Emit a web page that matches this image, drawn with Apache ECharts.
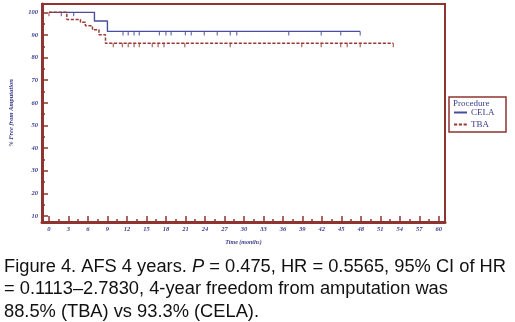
<!DOCTYPE html>
<html><head><meta charset="utf-8">
<script src="https://cdn.jsdelivr.net/npm/echarts@6/dist/echarts.min.js"></script>
<style>html,body{margin:0;padding:0;background:#fff}#c{width:515px;height:322px}</style>
</head><body><div id="c"></div>
<script>
// Kaplan-Meier steps (time in months, % free from amputation)
const celaTimes = [0, 7.0, 9.0, 47.9];
const celaValues = [100, 96.2, 91.6, 91.6];
const tbaTimes = [0, 2.75, 4.85, 5.6, 6.7, 7.7, 8.7, 53.0];
const tbaValues = [100, 96.9, 95.6, 94.1, 92.3, 90.1, 86.3, 86.3];
// censoring marks (months)
const celaCensor = [1.9, 3.8, 11.4, 12.2, 13.1, 13.9, 17.0, 18.0, 18.8, 21.0, 21.9, 23.9, 25.9, 27.9, 28.9, 36.9, 41.9, 44.9, 47.9];
const tbaCensor = [0, 9.9, 11.3, 12.2, 13.1, 13.9, 15.9, 16.8, 17.7, 20.9, 27.9, 38.9, 41.9, 44.9, 45.9, 47.9, 53.0];
// axis ticks
const xTickLabels = [0,3,6,9,12,15,18,21,24,27,30,33,36,39,42,45,48,51,54,57,60];
const xMinorTicks = [1.5,4.5,7.5,10.5,13.5,16.5,19.5,22.5,25.5,28.5,31.5,34.5,37.5,40.5,43.5,46.5,49.5,52.5,55.5,58.5];
const yTickLabels = [10,20,30,40,50,60,70,80,90,100];
const yMinorTicks = [15,25,35,45,55,65,75,85,95];

const RED = '#8e3431', BLUE = '#4a4c9e', TXT = '#3b3d8c', LINE_RED = '#9a3a35';
function stepData(t, v){ return t.map((x,i)=>[x, v[i]]); }
function levelAt(t, v, x){ let s = v[0]; for(let i=0;i<t.length;i++){ if(t[i] <= x) s = v[i]; } return s; }
const labFont = {fontFamily:'Liberation Serif', fontStyle:'italic', fontWeight:'bold', fontSize:6.5, color:TXT};

const chart = echarts.init(document.getElementById('c'), null, {renderer:'canvas'});
const X0 = -1.07, X1 = 60.95, Y0 = 7.35, Y1 = 103.7;
chart.setOption({
  animation:false,
  grid:{left:40, top:4, right:70, bottom:100, show:true, borderColor:RED, borderWidth:2, backgroundColor:'#fff'},
  xAxis:[
    {type:'value', min:X0, max:X1, splitLine:{show:false},
     axisLine:{show:true, onZero:false, lineStyle:{color:RED, width:3}},
     axisTick:{show:true, inside:true, length:6, customValues:xTickLabels, lineStyle:{color:RED, width:1.5}},
     axisLabel:Object.assign({show:true, margin:4, customValues:xTickLabels}, labFont),
     name:'Time (months)', nameLocation:'middle', nameGap:17,
     nameTextStyle:{fontFamily:'Liberation Serif', fontStyle:'italic', fontWeight:'bold', fontSize:6, color:TXT}},
    {type:'value', min:X0, max:X1, position:'bottom', splitLine:{show:false},
     axisLine:{show:false, onZero:false}, axisLabel:{show:false},
     axisTick:{show:true, inside:true, length:3, customValues:xMinorTicks, lineStyle:{color:RED, width:1.5}}}
  ],
  yAxis:[
    {type:'value', min:Y0, max:Y1, splitLine:{show:false},
     axisLine:{show:true, onZero:false, lineStyle:{color:RED, width:3}},
     axisTick:{show:true, inside:true, length:6, customValues:yTickLabels, lineStyle:{color:RED, width:1.5}},
     axisLabel:Object.assign({show:true, margin:4, customValues:yTickLabels}, labFont),
     name:'% Free from Amputation', nameLocation:'middle', nameGap:27, nameRotate:90,
     nameTextStyle:{fontFamily:'Liberation Serif', fontStyle:'italic', fontWeight:'bold', fontSize:6.5, color:TXT}},
    {type:'value', min:Y0, max:Y1, position:'left', offset:0, splitLine:{show:false},
     axisLine:{show:false, onZero:false}, axisLabel:{show:false},
     axisTick:{show:true, inside:true, length:3, customValues:yMinorTicks, lineStyle:{color:RED, width:1.5}}}
  ],
  legend:{orient:'vertical', left:453, top:108, padding:0, itemGap:3, itemWidth:13, itemHeight:6,
    itemStyle:{opacity:0},
    textStyle:{fontFamily:'Liberation Serif', fontSize:9, color:TXT, padding:[0,0,0,-1]},
    data:['CELA','TBA']},
  series:[
    {name:'CELA', type:'line', step:'end', symbol:'none', showSymbol:false, data:stepData(celaTimes, celaValues),
     lineStyle:{color:BLUE, width:1.4}, itemStyle:{color:BLUE}, z:3},
    {name:'TBA', type:'line', step:'end', symbol:'none', showSymbol:false, data:stepData(tbaTimes, tbaValues),
     lineStyle:{color:LINE_RED, width:1.5, type:[3.2,1.6]}, itemStyle:{color:LINE_RED}, z:4},
    {name:'CELA censored', type:'scatter', symbol:'rect', symbolSize:[1.2,4], symbolOffset:[0,2],
     data:celaCensor.map(t=>[t, levelAt(celaTimes, celaValues, t)]), itemStyle:{color:BLUE}, z:3},
    {name:'TBA censored', type:'scatter', symbol:'rect', symbolSize:[1.2,4], symbolOffset:[0,2],
     data:tbaCensor.map(t=>[t, levelAt(tbaTimes, tbaValues, t)]), itemStyle:{color:LINE_RED}, z:4}
  ],
  graphic:[
    {type:'rect', shape:{x:449, y:97, width:57, height:35}, style:{fill:'#fff', stroke:RED, lineWidth:1.5}, z:-1},
    {type:'text', x:453, y:99, style:{text:'Procedure', fontFamily:'Liberation Serif', fontSize:9, fill:TXT}},
    {type:'text', x:4, y:255.5, style:{
      text:'Figure 4. AFS 4 years. {i|P} = 0.475, HR = 0.5565, 95% CI of HR\n= 0.1113–2.7830, 4-year freedom from amputation was\n88.5% (TBA) vs 93.3% (CELA).',
      fontFamily:'Liberation Sans', fontSize:18.3, lineHeight:22.5, fill:'#111',
      rich:{i:{fontFamily:'Liberation Sans', fontStyle:'italic', fontSize:18.3, fill:'#111'}}}}
  ]
});
</script></body></html>
